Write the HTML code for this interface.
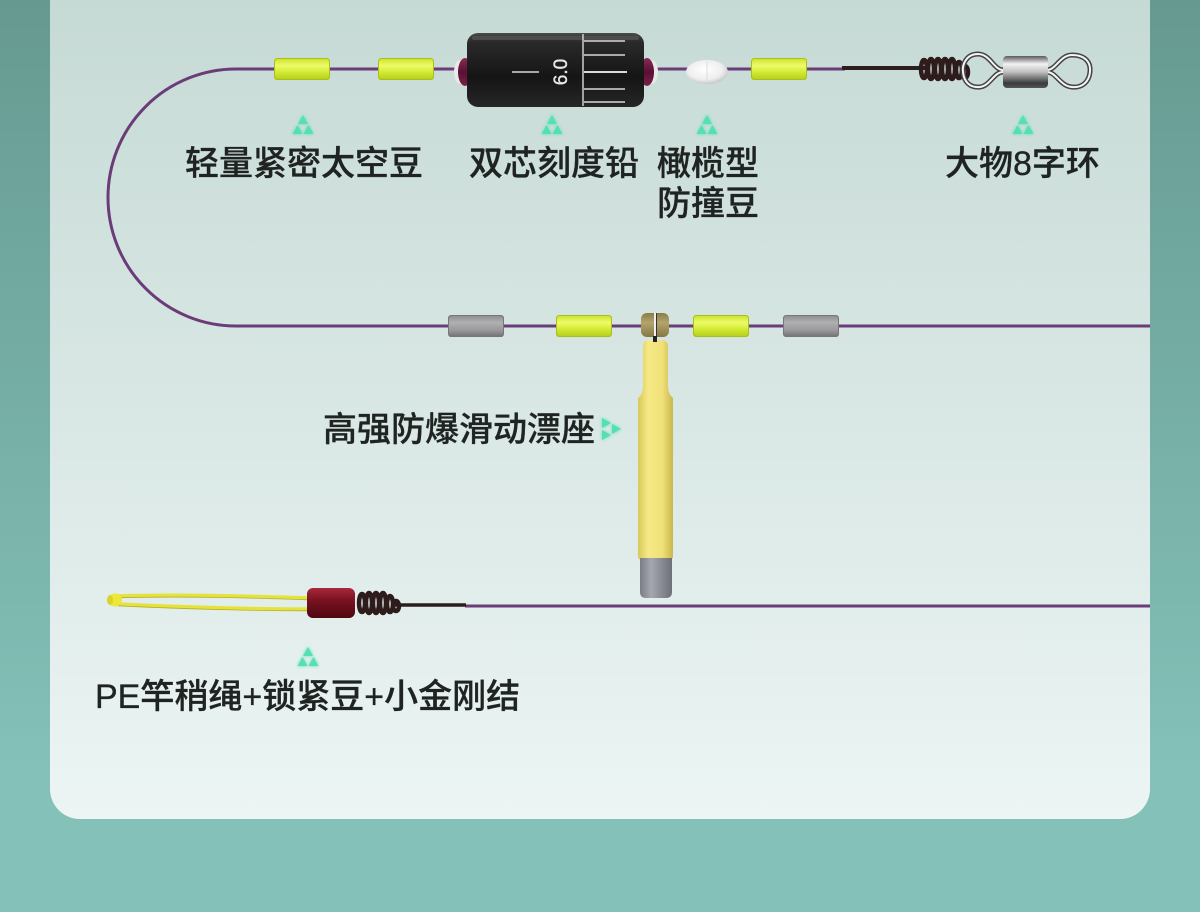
<!DOCTYPE html>
<html><head><meta charset="utf-8"><style>
html,body{margin:0;padding:0;width:1200px;height:912px;overflow:hidden}
svg{display:block}
text{font-family:"Liberation Sans","Noto Sans CJK SC",sans-serif;font-size:34px;fill:#1f2322;font-weight:500;stroke:#1f2322;stroke-width:0.3px}
</style></head><body>
<svg width="1200" height="912" viewBox="0 0 1200 912" xmlns="http://www.w3.org/2000/svg">
<defs>
<linearGradient id="outer" x1="0" y1="0" x2="0" y2="1">
<stop offset="0" stop-color="#669a91"/><stop offset="0.85" stop-color="#84c1b8"/><stop offset="1" stop-color="#84c1b8"/>
</linearGradient>
<linearGradient id="card" x1="0" y1="0" x2="0" y2="1">
<stop offset="0" stop-color="#c6dad5"/><stop offset="1" stop-color="#ecf5f4"/>
</linearGradient>
<linearGradient id="green" x1="0" y1="0" x2="0" y2="1">
<stop offset="0" stop-color="#c9e22a"/><stop offset="0.35" stop-color="#eefb6a"/><stop offset="0.6" stop-color="#d6ee38"/><stop offset="1" stop-color="#b4cc1c"/>
</linearGradient>
<linearGradient id="gray" x1="0" y1="0" x2="0" y2="1">
<stop offset="0" stop-color="#8c8c8e"/><stop offset="0.35" stop-color="#b0b0b2"/><stop offset="0.7" stop-color="#98989a"/><stop offset="1" stop-color="#707072"/>
</linearGradient>
<linearGradient id="sink" x1="0" y1="0" x2="0" y2="1">
<stop offset="0" stop-color="#4a4a4a"/><stop offset="0.12" stop-color="#2a2a2a"/><stop offset="0.6" stop-color="#151515"/><stop offset="1" stop-color="#262626"/>
</linearGradient>
<linearGradient id="cap" x1="0" y1="0" x2="0" y2="1">
<stop offset="0" stop-color="#8a2a55"/><stop offset="0.5" stop-color="#5a1035"/><stop offset="1" stop-color="#7a2048"/>
</linearGradient>
<radialGradient id="oval" cx="0.45" cy="0.4" r="0.6">
<stop offset="0" stop-color="#ffffff"/><stop offset="0.7" stop-color="#eeeeee"/><stop offset="1" stop-color="#c8c8c8"/>
</radialGradient>
<linearGradient id="barrel" x1="0" y1="0" x2="0" y2="1">
<stop offset="0" stop-color="#5a5a5a"/><stop offset="0.25" stop-color="#f2f2f2"/><stop offset="0.5" stop-color="#c0c0c0"/><stop offset="0.85" stop-color="#3a3a3a"/><stop offset="1" stop-color="#555"/>
</linearGradient>
<linearGradient id="tube" x1="0" y1="0" x2="1" y2="0">
<stop offset="0" stop-color="#d8c85a"/><stop offset="0.3" stop-color="#f6ea86"/><stop offset="0.7" stop-color="#efe077"/><stop offset="1" stop-color="#c9b84c"/>
</linearGradient>
<linearGradient id="gcap" x1="0" y1="0" x2="1" y2="0">
<stop offset="0" stop-color="#7a7d86"/><stop offset="0.35" stop-color="#a4a7b0"/><stop offset="1" stop-color="#6e7078"/>
</linearGradient>
<linearGradient id="seat" x1="0" y1="0" x2="0" y2="1">
<stop offset="0" stop-color="#8a7c48"/><stop offset="0.4" stop-color="#b3a46c"/><stop offset="1" stop-color="#857744"/>
</linearGradient>
<linearGradient id="red" x1="0" y1="0" x2="0" y2="1">
<stop offset="0" stop-color="#a8283a"/><stop offset="0.4" stop-color="#7a1222"/><stop offset="1" stop-color="#4e0610"/>
</linearGradient>
<filter id="glow" x="-50%" y="-50%" width="200%" height="200%"><feGaussianBlur stdDeviation="1.5" result="b"/><feMerge><feMergeNode in="b"/><feMergeNode in="SourceGraphic"/></feMerge></filter>
<g id="mk" fill="#55e0b2">
<polygon points="0,-10 -5,-1 5,-1"/>
<polygon points="-5.5,0 -10.5,9 -0.5,9"/>
<polygon points="5.5,0 0.5,9 10.5,9"/>
</g>
<g id="gb">
<rect x="0" y="0" width="56" height="22" rx="3" fill="url(#green)"/>
<rect x="0.5" y="0.5" width="55" height="21" rx="3" fill="none" stroke="#a9c018" stroke-width="1"/>
</g>
<g id="grb">
<rect x="0" y="0" width="56" height="22" rx="3" fill="url(#gray)"/>
<rect x="0.5" y="0.5" width="55" height="21" rx="3" fill="none" stroke="#777" stroke-width="1"/>
</g>
</defs>

<rect width="1200" height="912" fill="url(#outer)"/>
<path d="M50 0 H1150 V789 A30 30 0 0 1 1120 819 H80 A30 30 0 0 1 50 789 Z" fill="url(#card)"/>

<!-- main line -->
<path d="M845 69 H236 A128 128.5 0 0 0 236 326 H1150" fill="none" stroke="#6a3c78" stroke-width="3"/>
<line x1="465" y1="606" x2="1150" y2="606" stroke="#6a3c78" stroke-width="3"/>

<!-- top beads -->
<use href="#gb" x="274" y="58"/>
<use href="#gb" x="378" y="58"/>
<use href="#gb" x="751" y="58"/>

<!-- sinker -->
<ellipse cx="460" cy="72" rx="6" ry="12" fill="#e8e8e8"/>
<ellipse cx="465" cy="72" rx="7" ry="14" fill="url(#cap)"/>
<ellipse cx="652" cy="72" rx="6" ry="12" fill="#e8e8e8"/>
<ellipse cx="647" cy="72" rx="7" ry="14" fill="url(#cap)"/>
<rect x="467" y="33" width="177" height="74" rx="11" fill="url(#sink)"/>
<rect x="472" y="36" width="167" height="4" rx="2" fill="#5a5a5a" opacity="0.6"/>
<line x1="583" y1="34" x2="583" y2="106" stroke="#cfcfcf" stroke-width="1.5"/>
<g stroke="#d8d8d8" stroke-width="1.5">
<line x1="584" y1="41" x2="625" y2="41"/>
<line x1="584" y1="55" x2="625" y2="55"/>
<line x1="584" y1="72" x2="627" y2="72" stroke-width="2"/>
<line x1="584" y1="89" x2="625" y2="89"/>
<line x1="584" y1="102" x2="625" y2="102"/>
<line x1="512" y1="72" x2="539" y2="72"/>
</g>
<text x="0" y="0" transform="translate(567,72) rotate(-90)" text-anchor="middle" style="font-size:19px;fill:#e6e6e6;stroke:#e6e6e6;stroke-width:0.4px;font-weight:400">6.0</text>

<!-- olive bead -->
<ellipse cx="707" cy="72" rx="21" ry="12" fill="url(#oval)"/>
<line x1="707" y1="61" x2="707" y2="83" stroke="#ddd" stroke-width="1"/>

<!-- leader and swivel -->
<line x1="842" y1="68" x2="925" y2="68" stroke="#2a1e1e" stroke-width="4"/>
<g fill="none" stroke="#2e1c1c" stroke-width="4.5">
<ellipse cx="924" cy="69" rx="3" ry="9"/>
<ellipse cx="931" cy="69" rx="3" ry="10"/>
<ellipse cx="938" cy="69" rx="3" ry="10"/>
<ellipse cx="945" cy="69" rx="3" ry="10"/>
<ellipse cx="952" cy="69" rx="3" ry="10"/>
<ellipse cx="959" cy="70" rx="3" ry="8"/>
<ellipse cx="965" cy="72" rx="3" ry="6"/>
</g>
<g fill="none">
<path d="M1003 70 C994 70 990 54 978 54 C966 54 962 65 963 72 C964 82 970 88 980 87 C990 86 994 72 1003 72" stroke="#444" stroke-width="5"/>
<path d="M1003 70 C994 70 990 54 978 54 C966 54 962 65 963 72 C964 82 970 88 980 87 C990 86 994 72 1003 72" stroke="#f4f4f4" stroke-width="2"/>
<path d="M1047 70 C1056 70 1060 55 1072 55 C1086 55 1091 63 1090 72 C1089 82 1082 88 1072 87 C1060 86 1056 72 1047 72" stroke="#444" stroke-width="5"/>
<path d="M1047 70 C1056 70 1060 55 1072 55 C1086 55 1091 63 1090 72 C1089 82 1082 88 1072 87 C1060 86 1056 72 1047 72" stroke="#f4f4f4" stroke-width="2"/>
</g>
<rect x="1003" y="56" width="45" height="32" rx="4" fill="url(#barrel)"/>

<!-- markers -->
<g filter="url(#glow)">
<use href="#mk" x="303" y="125"/>
<use href="#mk" x="552" y="125"/>
<use href="#mk" x="707" y="125"/>
<use href="#mk" x="1023" y="125"/>
<use href="#mk" x="308" y="657"/>
<g fill="#55e0b2">
<polygon points="602,418 611,423 602,428"/>
<polygon points="602,430 611,435 602,440"/>
<polygon points="612,424 621,429 612,434"/>
</g>
</g>

<!-- labels -->
<text x="185" y="175">轻量紧密太空豆</text>
<text x="469" y="175">双芯刻度铅</text>
<text x="657" y="175">橄榄型</text>
<text x="657" y="215">防撞豆</text>
<text x="945" y="175">大物8字环</text>
<text x="323" y="441">高强防爆滑动漂座</text>
<text x="95" y="708">PE竿稍绳+锁紧豆+小金刚结</text>

<!-- middle row beads -->
<use href="#grb" x="448" y="315"/>
<use href="#gb" x="556" y="315"/>
<use href="#gb" x="693" y="315"/>
<use href="#grb" x="783" y="315"/>

<!-- float seat -->
<path d="M643 346 Q643 340 650 340 L661 340 Q668 340 668 346 L668 386 Q668 394 673 398 L673 556 Q673 560 669 560 L642 560 Q638 560 638 556 L638 398 Q643 394 643 386 Z" fill="url(#tube)"/>
<path d="M640 558 H672 V592 Q672 598 666 598 H646 Q640 598 640 592 Z" fill="url(#gcap)"/>
<rect x="641" y="313" width="28" height="24" rx="6" fill="url(#seat)"/>
<line x1="655" y1="313" x2="655" y2="337" stroke="#f0f0f0" stroke-width="2"/>
<line x1="656.5" y1="313" x2="656.5" y2="337" stroke="#333" stroke-width="1"/>
<rect x="653" y="336" width="4" height="6" fill="#222"/>

<!-- PE rope -->
<g fill="none" stroke="#e6e23c" stroke-width="3.5">
<path d="M118 596 C180 594 250 596 308 598"/>
<path d="M118 604 C180 607 250 609 308 609"/>
</g>
<g fill="none" stroke="#b8b020" stroke-width="0.8">
<path d="M118 597.8 C180 595.8 250 597.8 308 599.8"/>
<path d="M118 605.8 C180 608.8 250 610.8 308 610.8"/>
</g>
<ellipse cx="115" cy="600" rx="7" ry="6.5" fill="#ece838"/>
<ellipse cx="110" cy="600" rx="3" ry="5" fill="#d8d428"/>
<rect x="307" y="588" width="48" height="30" rx="6" fill="url(#red)"/>
<line x1="395" y1="605" x2="466" y2="605" stroke="#2a1e1e" stroke-width="3.5"/>
<g fill="none" stroke="#2e1c1c" stroke-width="4.5">
<ellipse cx="362" cy="603" rx="3" ry="9"/>
<ellipse cx="369" cy="603" rx="3" ry="10"/>
<ellipse cx="376" cy="603" rx="3" ry="10"/>
<ellipse cx="383" cy="603" rx="3" ry="10"/>
<ellipse cx="390" cy="604" rx="3" ry="8"/>
<ellipse cx="396" cy="606" rx="3" ry="5"/>
</g>
</svg>
</body></html>
